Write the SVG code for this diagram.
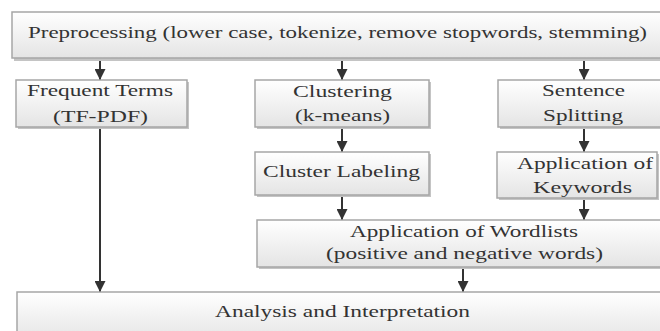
<svg xmlns="http://www.w3.org/2000/svg" width="660" height="331" viewBox="0 0 660 331">
<defs>
<linearGradient id="g" x1="0" y1="0" x2="0" y2="1">
<stop offset="0" stop-color="#ffffff"/>
<stop offset="1" stop-color="#e4e4e4"/>
</linearGradient>
<marker id="ah" viewBox="0 0 10 10" refX="10" refY="5" markerWidth="5.5" markerHeight="5.5" orient="auto" markerUnits="strokeWidth">
<path d="M0,0 L10,5 L0,10 z" fill="#333"/>
</marker>
</defs>
<style>
.box{fill:url(#g);stroke:#a6a6a6;stroke-width:1.5}
.sh{fill:#c4c4c4}
.t{font-family:"Liberation Serif","Times New Roman",serif;font-size:16px;fill:#333}
.c{stroke:#333;stroke-width:2;fill:none;marker-end:url(#ah)}
</style>
<rect width="660" height="331" fill="#fff"/>
<g id="connectors">
<line class="c" x1="100" y1="59" x2="100" y2="80"/>
<line class="c" x1="342" y1="59" x2="342" y2="80"/>
<line class="c" x1="584" y1="59" x2="584" y2="80"/>
<line class="c" x1="100" y1="128" x2="100" y2="292"/>
<line class="c" x1="342" y1="128" x2="342" y2="152"/>
<line class="c" x1="584" y1="128" x2="584" y2="152"/>
<line class="c" x1="342" y1="196" x2="342" y2="220"/>
<line class="c" x1="584" y1="199" x2="584" y2="220"/>
<line class="c" x1="463" y1="268" x2="463" y2="292"/>
</g>
<g id="preprocessing">
<rect class="sh" x="14" y="14" width="656" height="47"/>
<rect class="box" x="12" y="12" width="656" height="46"/>
<text class="t" x="28" y="38" textLength="619" lengthAdjust="spacingAndGlyphs">Preprocessing (lower case, tokenize, remove stopwords, stemming)</text>
</g>
<g id="frequent">
<rect class="sh" x="18" y="82" width="171" height="47"/>
<rect class="box" x="16" y="80" width="171" height="47"/>
<text class="t" x="27" y="96" textLength="146" lengthAdjust="spacingAndGlyphs">Frequent Terms</text>
<text class="t" x="53" y="122" textLength="95" lengthAdjust="spacingAndGlyphs">(TF-PDF)</text>
</g>
<g id="clustering">
<rect class="sh" x="257" y="82" width="174" height="47"/>
<rect class="box" x="255" y="80" width="174" height="47"/>
<text class="t" x="293" y="97" textLength="99" lengthAdjust="spacingAndGlyphs">Clustering</text>
<text class="t" x="295" y="121" textLength="95" lengthAdjust="spacingAndGlyphs">(k-means)</text>
</g>
<g id="sentence">
<rect class="sh" x="500" y="82" width="174" height="47"/>
<rect class="box" x="498" y="80" width="174" height="47"/>
<text class="t" x="542" y="96" textLength="83" lengthAdjust="spacingAndGlyphs">Sentence</text>
<text class="t" x="543" y="121" textLength="80" lengthAdjust="spacingAndGlyphs">Splitting</text>
</g>
<g id="labeling">
<rect class="sh" x="257" y="154" width="174" height="43"/>
<rect class="box" x="255" y="152" width="174" height="43"/>
<text class="t" x="263" y="177" textLength="157" lengthAdjust="spacingAndGlyphs">Cluster Labeling</text>
</g>
<g id="keywords">
<rect class="sh" x="499" y="154" width="160" height="46"/>
<rect class="box" x="497" y="152" width="160" height="46"/>
<text class="t" x="517" y="169" textLength="136" lengthAdjust="spacingAndGlyphs">Application of</text>
<text class="t" x="533" y="193" textLength="99" lengthAdjust="spacingAndGlyphs">Keywords</text>
</g>
<g id="wordlists">
<rect class="sh" x="259" y="222" width="414" height="47"/>
<rect class="box" x="257" y="220" width="414" height="47"/>
<text class="t" x="350" y="237" textLength="228" lengthAdjust="spacingAndGlyphs">Application of Wordlists</text>
<text class="t" x="326" y="259" textLength="277" lengthAdjust="spacingAndGlyphs">(positive and negative words)</text>
</g>
<g id="analysis">
<rect class="sh" x="19" y="294" width="656" height="50"/>
<rect class="box" x="17" y="292" width="656" height="50"/>
<text class="t" x="215" y="317" textLength="255" lengthAdjust="spacingAndGlyphs">Analysis and Interpretation</text>
</g>
</svg>
